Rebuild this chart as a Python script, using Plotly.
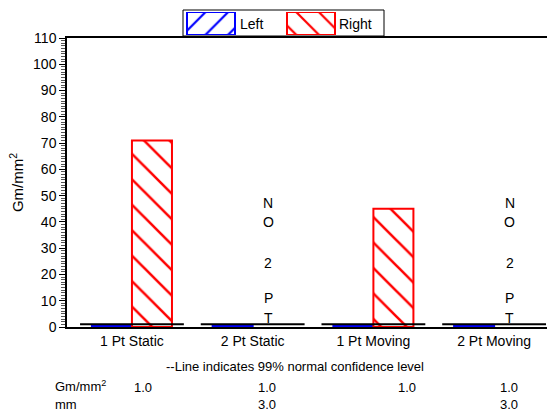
import plotly.graph_objects as go

# ---- data ----
categories = ["1 Pt Static", "2 Pt Static", "1 Pt Moving", "2 Pt Moving"]
left_values = [0.5, 0.5, 0.5, 0.5]
right_values = [71, None, 45, None]
confidence_level = [1.0, 1.0, 1.0, 1.0]
missing_text = ["", "NO 2 PT", "", "NO 2 PT"]
row_gm = ["1.0", "1.0", "1.0", "1.0"]
row_mm = ["", "3.0", "", "3.0"]
y_ticks = list(range(0, 111, 10))

FONT = "Arial, Liberation Sans, Helvetica, sans-serif"
W, H = 547, 413
ML, MR, MT, MB = 67, 0, 8, 86
PH = H - MT - MB


def py(p):  # pixel y -> paper y
    return (H - MB - p) / PH


def px(p):  # pixel x -> paper x
    return (p - ML) / (W - ML - MR)


def pattern(shape, color, size):
    return dict(shape=shape, fgcolor=color, bgcolor="white", size=size, solidity=0.14,
                fgopacity=1, fillmode="replace")


xs = list(range(len(categories)))
fig = go.Figure()

fig.add_trace(go.Bar(
    x=xs, y=left_values, name="Left",
    marker=dict(color="white", opacity=1, line=dict(color="#0000ff", width=2),
                pattern=pattern("/", "#0000ff", 18)),
    showlegend=False))
fig.add_trace(go.Bar(
    x=xs, y=right_values, name="Right",
    marker=dict(color="white", opacity=1, line=dict(color="#ff0000", width=2),
                pattern=pattern("\\", "#ff0000", 18)),
    showlegend=False))

# confidence lines
for i, c in enumerate(confidence_level):
    fig.add_trace(go.Scatter(x=[i - 0.43, i + 0.43], y=[c, c], mode="lines",
                             line=dict(color="black", width=2), showlegend=False,
                             hoverinfo="skip"))

# legend swatches on a small separate axis
fig.add_trace(go.Bar(x=[211], y=[1], width=[48], xaxis="x2", yaxis="y2", showlegend=False,
                     marker=dict(color="white", line=dict(color="#0000ff", width=2),
                                 pattern=pattern("/", "#0000ff", 16))))
fig.add_trace(go.Bar(x=[311], y=[1], width=[48], xaxis="x2", yaxis="y2", showlegend=False,
                     marker=dict(color="white", line=dict(color="#ff0000", width=2),
                                 pattern=pattern("\\", "#ff0000", 16))))

annotations = []
# NO 2 PT vertical text
letter_y = [47.1, 39.9, None, 24.3, None, 11.0, 3.4]
for i, t in enumerate(missing_text):
    if not t:
        continue
    yi = 0
    for ch in t:
        if ch == " ":
            yi += 1
            continue
        annotations.append(dict(x=i + 0.13, y=letter_y[yi], xref="x", yref="y", text=ch,
                                xanchor="center", yanchor="middle",
                                showarrow=False, font=dict(size=14, color="black", family=FONT)))
        yi += 1

# legend texts
annotations.append(dict(x=px(238), y=py(24), xref="paper", yref="paper", text="Left",
                        xanchor="left", yanchor="middle",
                        showarrow=False, font=dict(size=14, color="black", family=FONT)))
annotations.append(dict(x=px(337), y=py(24), xref="paper", yref="paper", text="Right",
                        xanchor="left", yanchor="middle",
                        showarrow=False, font=dict(size=14, color="black", family=FONT)))

# footnote
annotations.append(dict(x=px(295), y=py(366), xref="paper", yref="paper",
                        text="--Line indicates 99% normal confidence level",
                        xanchor="center", yanchor="middle",
                        showarrow=False, font=dict(size=13, color="black", family=FONT)))
annotations.append(dict(x=px(53), y=py(386), xref="paper", yref="paper", text="Gm/mm<sup>2</sup>",
                        xanchor="left", yanchor="middle", showarrow=False,
                        font=dict(size=13, color="black", family=FONT)))
annotations.append(dict(x=px(53), y=py(404), xref="paper", yref="paper", text="mm",
                        xanchor="left", yanchor="middle", showarrow=False,
                        font=dict(size=13, color="black", family=FONT)))
col_x = [0.09, 1.12, 2.28, 3.12]
for i in range(len(categories)):
    annotations.append(dict(x=col_x[i], y=py(387), xref="x", yref="paper", text=row_gm[i],
                            xanchor="center", yanchor="middle",
                            showarrow=False, font=dict(size=13, color="black", family=FONT)))
    if row_mm[i]:
        annotations.append(dict(x=col_x[i], y=py(404), xref="x", yref="paper", text=row_mm[i],
                                xanchor="center", yanchor="middle",
                                showarrow=False, font=dict(size=13, color="black", family=FONT)))

shapes = [dict(type="rect", xref="paper", yref="paper", x0=px(183), x1=px(384), y0=py(36), y1=py(10),
               line=dict(color="black", width=1), fillcolor="rgba(0,0,0,0)")]

fig.update_layout(
    width=W, height=H,
    margin=dict(l=ML, r=MR, t=MT, b=MB),
    paper_bgcolor="white", plot_bgcolor="white",
    barmode="group", bargap=0.337, bargroupgap=0,
    font=dict(family=FONT, size=14, color="black"),
    showlegend=False,
    annotations=annotations,
    shapes=shapes,
    xaxis=dict(range=[-0.538, 3.438], tickvals=xs, ticktext=categories, showline=True,
               linecolor="black", linewidth=2, mirror=True, ticks="", showgrid=False,
               zeroline=False, tickfont=dict(size=14), domain=[0, 1]),
    yaxis=dict(range=[0, 110], tickvals=y_ticks, showline=True, linecolor="black", linewidth=1.5,
               ticks="outside", ticklen=6, tickcolor="black", showgrid=False, zeroline=False,
               domain=[0, py(38)], tickfont=dict(size=14),
               minor=dict(dtick=1, ticks="outside", ticklen=4, tickcolor="#555", showgrid=False),
               title=dict(text="Gm/mm<sup>2</sup>", font=dict(size=15), standoff=6)),
    xaxis2=dict(domain=[px(183), px(384)], range=[183, 384], anchor="y2", visible=False),
    yaxis2=dict(domain=[py(35), py(12)], range=[0, 1], anchor="x2", visible=False),
)

fig.write_html("out.html")
